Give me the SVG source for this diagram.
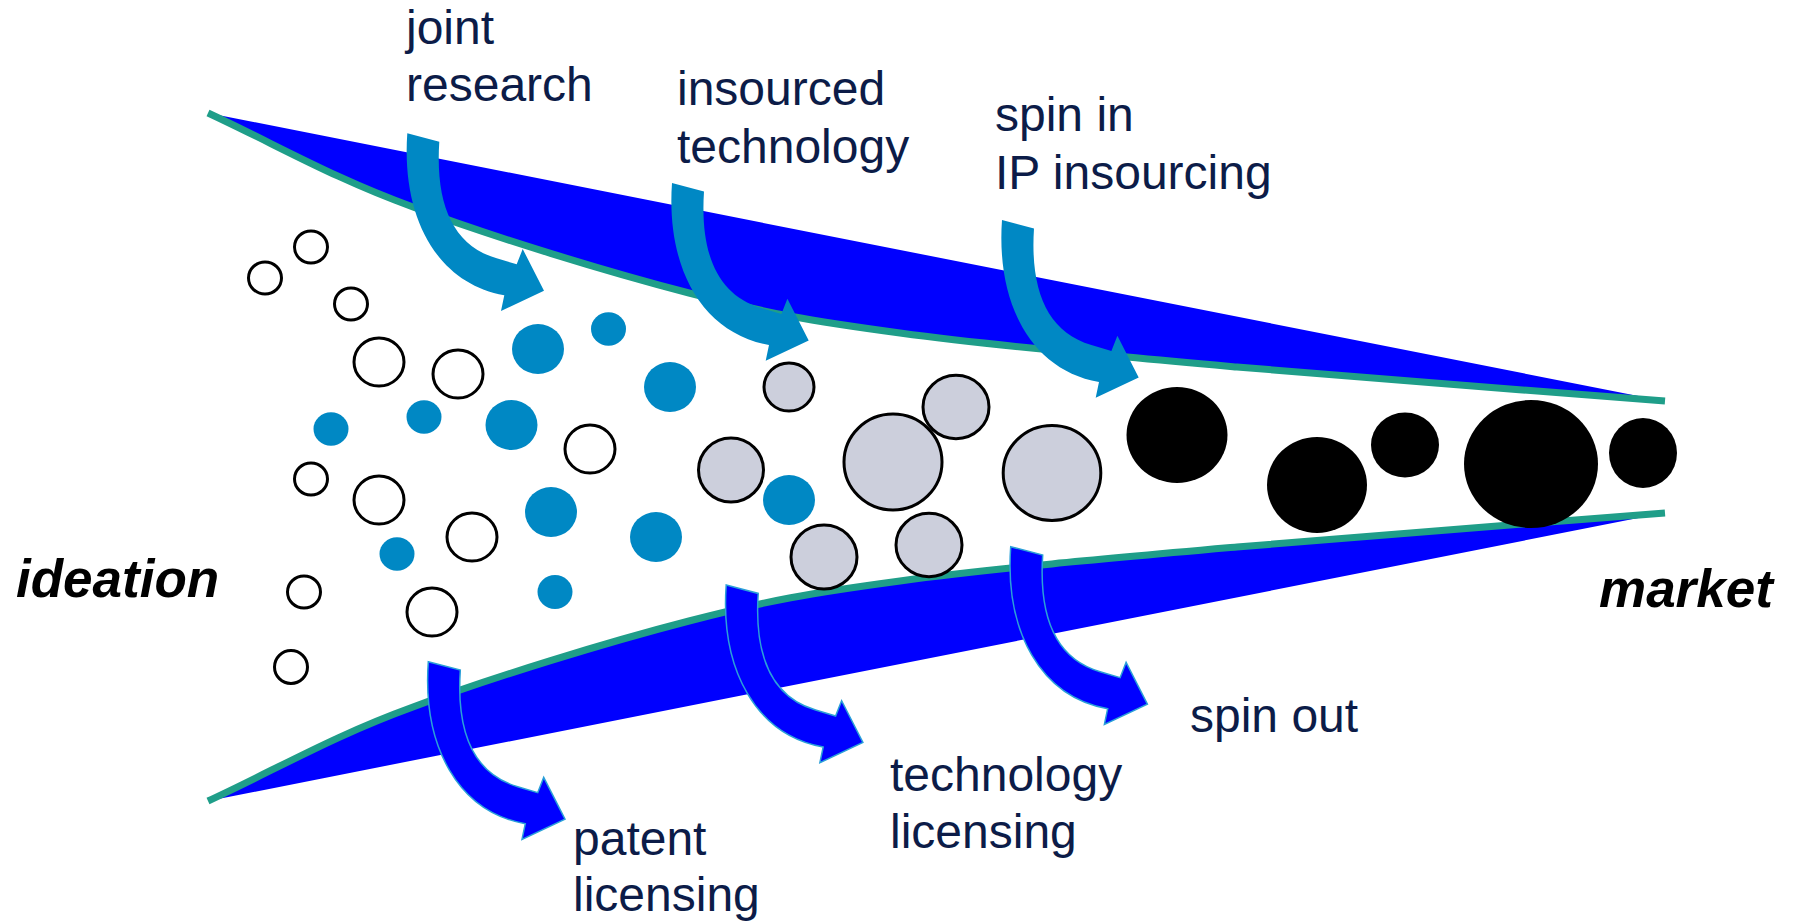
<svg xmlns="http://www.w3.org/2000/svg" xmlns:xlink="http://www.w3.org/1999/xlink" width="1793" height="923" viewBox="0 0 1793 923">
<style>
.lbl{font-family:"Liberation Sans",Arial,sans-serif;font-size:48px;fill:#0c1c48}
.big{font-family:"Liberation Sans",Arial,sans-serif;font-size:53px;font-weight:bold;font-style:italic;fill:#000}
.wedge{fill:#0000ff}
.rim{fill:none;stroke:#1f9e89;stroke-width:7}
.w{fill:#fff;stroke:#000;stroke-width:3}
.b{fill:#0088c4}
.g{fill:#cccfdc;stroke:#000;stroke-width:3}
.k{fill:#000}
.ain{fill:#0088c4}
.aout{fill:#0000ff;stroke:#2aa0d8;stroke-width:1.5}
</style>
<defs>
<path id="arr" d="M0,0 L32,8.4 C28,70 45,112 89.4,125 L109.4,131 L115.4,115.7 L136.7,157.4 L93.7,177.7 L97,162 C30,150 -6,85 0,0 Z"/>
<path id="edge" d="M208,113 C277,145 333,178 413,207 C493,237 607.8,272 689,293 C770.2,314 808.7,320.7 900,333 C991.3,345.3 1109.5,355.7 1237,367 C1364.5,378.3 1522.3,389.7 1665,401"/>
</defs>
<rect width="1793" height="923" fill="#fff"/>
<g id="funnel-top">
<path class="wedge" d="M208,113 C277,145 333,178 413,207 C493,237 607.8,272 689,293 C770.2,314 808.7,320.7 900,333 C991.3,345.3 1109.5,355.7 1237,367 C1364.5,378.3 1522.3,389.7 1665,401 L1633,395 Z"/>
<use xlink:href="#edge" class="rim"/>
</g>
<g id="funnel-bottom" transform="matrix(1,0,0,-1,0,914)">
<path class="wedge" d="M208,113 C277,145 333,178 413,207 C493,237 607.8,272 689,293 C770.2,314 808.7,320.7 900,333 C991.3,345.3 1109.5,355.7 1237,367 C1364.5,378.3 1522.3,389.7 1665,401 L1633,395 Z"/>
<use xlink:href="#edge" class="rim"/>
</g>
<g id="bubbles">
<ellipse class="w" cx="311" cy="247" rx="16.5" ry="16"/>
<ellipse class="w" cx="265" cy="278" rx="16.5" ry="16"/>
<ellipse class="w" cx="351" cy="304" rx="16.5" ry="16"/>
<ellipse class="w" cx="379" cy="362" rx="25" ry="24"/>
<ellipse class="w" cx="458" cy="374" rx="25" ry="24"/>
<ellipse class="w" cx="590" cy="449" rx="25" ry="24"/>
<ellipse class="w" cx="311" cy="479" rx="16.5" ry="16"/>
<ellipse class="w" cx="379" cy="500" rx="25" ry="24"/>
<ellipse class="w" cx="472" cy="537" rx="25" ry="24"/>
<ellipse class="w" cx="304" cy="592" rx="16.5" ry="16"/>
<ellipse class="w" cx="432" cy="612" rx="25" ry="24"/>
<ellipse class="w" cx="291" cy="667" rx="16.5" ry="16.5"/>
<ellipse class="b" cx="538" cy="349" rx="26" ry="25"/>
<ellipse class="b" cx="608.5" cy="329" rx="17.5" ry="16.7"/>
<ellipse class="b" cx="670" cy="387" rx="26" ry="25"/>
<ellipse class="b" cx="331" cy="429" rx="17.5" ry="16.7"/>
<ellipse class="b" cx="424" cy="417" rx="17.5" ry="16.7"/>
<ellipse class="b" cx="511.5" cy="425" rx="26" ry="25"/>
<ellipse class="b" cx="551" cy="512" rx="26" ry="25"/>
<ellipse class="b" cx="397" cy="554" rx="17.5" ry="16.7"/>
<ellipse class="b" cx="656" cy="537" rx="26" ry="25"/>
<ellipse class="b" cx="555" cy="592" rx="17.5" ry="17"/>
<ellipse class="b" cx="789" cy="500" rx="26" ry="25"/>
<ellipse class="g" cx="789" cy="387" rx="25" ry="24"/>
<ellipse class="g" cx="731" cy="470" rx="32.5" ry="32"/>
<ellipse class="g" cx="824" cy="557" rx="33" ry="32"/>
<ellipse class="g" cx="893" cy="462" rx="49" ry="48"/>
<ellipse class="g" cx="956" cy="407" rx="33" ry="31.7"/>
<ellipse class="g" cx="929" cy="545" rx="33" ry="31.7"/>
<ellipse class="g" cx="1052" cy="473" rx="48.8" ry="47.5"/>
<ellipse class="k" cx="1177" cy="435" rx="50.5" ry="48"/>
<ellipse class="k" cx="1317" cy="485" rx="50" ry="48"/>
<ellipse class="k" cx="1405" cy="445" rx="34" ry="32.5"/>
<ellipse class="k" cx="1531" cy="464" rx="67" ry="64"/>
<ellipse class="k" cx="1643" cy="453" rx="34" ry="35"/>
</g>
<g id="connectors">
<use xlink:href="#arr" class="ain" x="407.3" y="133.3"/>
<use xlink:href="#arr" class="ain" x="672" y="183"/>
<use xlink:href="#arr" class="ain" x="1002" y="220"/>
<use xlink:href="#arr" class="aout" x="428.3" y="661.7"/>
<use xlink:href="#arr" class="aout" x="726.2" y="585"/>
<use xlink:href="#arr" class="aout" x="1010.7" y="546.7"/>
</g>
<g id="label-joint-research"><text class="lbl" x="406" y="44">joint</text><text class="lbl" x="406" y="101">research</text></g>
<g id="label-insourced-technology"><text class="lbl" x="677" y="105">insourced</text><text class="lbl" x="677" y="163">technology</text></g>
<g id="label-spin-in"><text class="lbl" x="995" y="131">spin in</text><text class="lbl" x="995" y="189">IP insourcing</text></g>
<g id="label-patent-licensing"><text class="lbl" x="573" y="855">patent</text><text class="lbl" x="573" y="911">licensing</text></g>
<g id="label-technology-licensing"><text class="lbl" x="890" y="791">technology</text><text class="lbl" x="890" y="848">licensing</text></g>
<g id="label-spin-out"><text class="lbl" x="1190" y="732">spin out</text></g>
<g id="label-ideation"><text class="big" x="16" y="597">ideation</text></g>
<g id="label-market"><text class="big" x="1599" y="607">market</text></g>
</svg>
